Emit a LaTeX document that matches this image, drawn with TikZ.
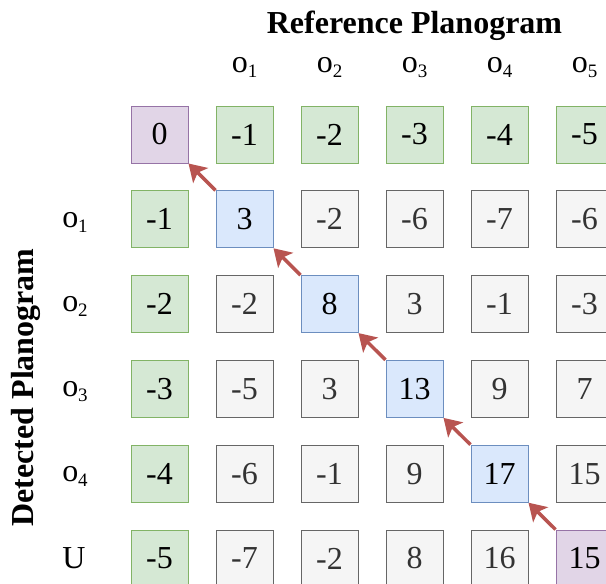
\documentclass[tikz,border=0pt]{standalone}
\usepackage{fontspec}
\setmainfont{Liberation Serif}
\usepackage{tikz}
\usetikzlibrary{arrows.meta}

\definecolor{initfill}{HTML}{D5E8D4}
\definecolor{initline}{HTML}{82B366}
\definecolor{endfill}{HTML}{E1D5E7}
\definecolor{endline}{HTML}{9673A6}
\definecolor{matchfill}{HTML}{DAE8FC}
\definecolor{matchline}{HTML}{6C8EBF}
\definecolor{scorefill}{HTML}{F5F5F5}
\definecolor{scoreline}{HTML}{666666}
\definecolor{scoretext}{HTML}{333333}
\definecolor{backred}{HTML}{B85450}

\newcommand{\bigsize}{\fontsize{32}{38}\selectfont}
\newcommand{\osub}[1]{o\raisebox{-5pt}{\fontsize{19}{20}\selectfont #1}}

\begin{document}
\begin{tikzpicture}[
	x=1pt, y=-1pt,
	cell/.style={rectangle, draw, line width=1pt, minimum size=57pt, inner sep=0pt, font=\bigsize},
	init/.style={cell, fill=initfill, draw=initline},
	ends/.style={cell, fill=endfill, draw=endline},
	match/.style={cell, fill=matchfill, draw=matchline},
	score/.style={cell, fill=scorefill, draw=scoreline, text=scoretext},
	lbl/.style={anchor=base, font=\bigsize},
	back/.style={line width=3.5pt, draw=backred, -{Stealth[length=17pt, width=21pt, inset=4pt]}},
]
	\clip (0,0) rectangle (606,584);

	% Titles
	\node[lbl, font=\bigsize\bfseries] (ref) at (414.5,33) {Reference Planogram};
	\node[lbl, font=\bigsize\bfseries, rotate=90] (det) at (33,387.5) {Detected Planogram};

	% Column labels
	\node[lbl] (col1) at (244.5,72) {\osub{1}};
	\node[lbl] (col2) at (329.5,72) {\osub{2}};
	\node[lbl] (col3) at (414.5,72) {\osub{3}};
	\node[lbl] (col4) at (499.5,72) {\osub{4}};
	\node[lbl] (col5) at (584.5,72) {\osub{5}};

	% Row labels
	\node[lbl] (row1) at (75,227) {\osub{1}};
	\node[lbl] (row2) at (75,311.8) {\osub{2}};
	\node[lbl] (row3) at (75,396.6) {\osub{3}};
	\node[lbl] (row4) at (75,481.4) {\osub{4}};
	\node[lbl] (row5) at (74,568) {U};

	% Row 0
	\node[ends] (r0c0) at (159.5,134.5) {0};
	\node[init] (r0c1) at (244.5,134.5) {-1};
	\node[init] (r0c2) at (329.5,134.5) {-2};
	\node[init] (r0c3) at (414.5,134.5) {-3};
	\node[init] (r0c4) at (499.5,134.5) {-4};
	\node[init] (r0c5) at (584.5,134.5) {-5};

	% Row 1
	\node[init] (r1c0) at (159.5,219.3) {-1};
	\node[match] (r1c1) at (244.5,219.3) {3};
	\node[score] (r1c2) at (329.5,219.3) {-2};
	\node[score] (r1c3) at (414.5,219.3) {-6};
	\node[score] (r1c4) at (499.5,219.3) {-7};
	\node[score] (r1c5) at (584.5,219.3) {-6};

	% Row 2
	\node[init] (r2c0) at (159.5,304.1) {-2};
	\node[score] (r2c1) at (244.5,304.1) {-2};
	\node[match] (r2c2) at (329.5,304.1) {8};
	\node[score] (r2c3) at (414.5,304.1) {3};
	\node[score] (r2c4) at (499.5,304.1) {-1};
	\node[score] (r2c5) at (584.5,304.1) {-3};

	% Row 3
	\node[init] (r3c0) at (159.5,388.9) {-3};
	\node[score] (r3c1) at (244.5,388.9) {-5};
	\node[score] (r3c2) at (329.5,388.9) {3};
	\node[match] (r3c3) at (414.5,388.9) {13};
	\node[score] (r3c4) at (499.5,388.9) {9};
	\node[score] (r3c5) at (584.5,388.9) {7};

	% Row 4
	\node[init] (r4c0) at (159.5,473.7) {-4};
	\node[score] (r4c1) at (244.5,473.7) {-6};
	\node[score] (r4c2) at (329.5,473.7) {-1};
	\node[score] (r4c3) at (414.5,473.7) {9};
	\node[match] (r4c4) at (499.5,473.7) {17};
	\node[score] (r4c5) at (584.5,473.7) {15};

	% Row 5 (U)
	\node[init] (r5c0) at (159.5,558.5) {-5};
	\node[score] (r5c1) at (244.5,558.5) {-7};
	\node[score] (r5c2) at (329.5,558.5) {-2};
	\node[score] (r5c3) at (414.5,558.5) {8};
	\node[score] (r5c4) at (499.5,558.5) {16};
	\node[ends] (r5c5) at (584.5,558.5) {15};

	% Backtracking path
	\draw[back] (r1c1.north west) -- (r0c0.south east);
	\draw[back] (r2c2.north west) -- (r1c1.south east);
	\draw[back] (r3c3.north west) -- (r2c2.south east);
	\draw[back] (r4c4.north west) -- (r3c3.south east);
	\draw[back] (r5c5.north west) -- (r4c4.south east);

\end{tikzpicture}
\end{document}
